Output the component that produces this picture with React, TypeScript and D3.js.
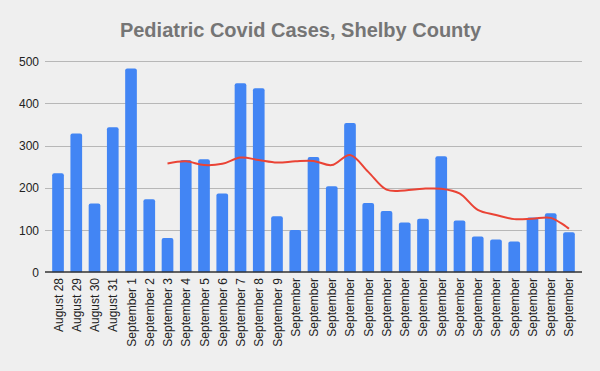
import React, { useEffect, useRef } from "react";
import * as d3 from "d3";

const categories: string[] = [
  "August 28", "August 29", "August 30", "August 31",
  "September 1", "September 2", "September 3", "September 4", "September 5",
  "September 6", "September 7", "September 8", "September 9",
  "September", "September", "September", "September", "September", "September",
  "September", "September", "September", "September", "September", "September",
  "September", "September", "September", "September",
];

const cases: number[] = [
  235, 329, 163, 344, 483, 173, 81, 266, 268, 187, 448, 436, 133, 100, 273,
  204, 354, 164, 145, 118, 127, 275, 123, 85, 78, 73, 130, 140, 95,
];

// trend line values (null where no line is drawn)
const trend: (number | null)[] = [
  null, null, null, null, null, null, 258, 263, 254, 257, 272, 266, 260, 263,
  264, 254, 278, 238, 196, 194, 198, 198, 187, 148, 136, 126, 127, 129, 103,
];

const yTicks: number[] = [0, 100, 200, 300, 400, 500];

const W = 600;
const H = 371;

export default function App() {
  const ref = useRef<SVGSVGElement>(null);

  useEffect(() => {
    const svg = d3.select(ref.current);
    svg.selectAll("*").remove();

    const gridLeft = 45;
    const gridRight = 582;
    const x = d3
      .scaleBand<number>()
      .domain(d3.range(categories.length))
      .range([48.9, 578.1])
      .paddingInner(0.36)
      .paddingOuter(0.18);
    const y = d3.scaleLinear().domain([0, 500]).range([272.3, 61.3]);

    svg.append("rect").attr("width", W).attr("height", H).attr("fill", "#efefef");

    svg
      .append("text")
      .attr("x", 300.5)
      .attr("y", 37)
      .attr("text-anchor", "middle")
      .attr("font-family", "Arial, 'Liberation Sans', sans-serif")
      .attr("font-size", 20)
      .attr("font-weight", "bold")
      .attr("fill", "#757575")
      .text("Pediatric Covid Cases, Shelby County");

    // gridlines
    svg
      .append("g")
      .selectAll("line")
      .data(yTicks.filter((t) => t !== 0))
      .join("line")
      .attr("x1", gridLeft)
      .attr("x2", gridRight)
      .attr("y1", (d) => Math.round(y(d)) + 0.5)
      .attr("y2", (d) => Math.round(y(d)) + 0.5)
      .attr("stroke", "#b7b7b7")
      .attr("stroke-width", 1);

    // y labels
    svg
      .append("g")
      .selectAll("text")
      .data(yTicks)
      .join("text")
      .attr("x", 39)
      .attr("y", (d) => y(d) + 4.5)
      .attr("text-anchor", "end")
      .attr("font-family", "Arial, 'Liberation Sans', sans-serif")
      .attr("font-size", 12)
      .attr("fill", "#222222")
      .text((d) => String(d));

    // bars
    const r = 2;
    svg
      .append("g")
      .selectAll("path")
      .data(cases)
      .join("path")
      .attr("fill", "#4285f4")
      .attr("d", (d, i) => {
        const x0 = x(i)!;
        const w = x.bandwidth();
        const y0 = y(d);
        const yb = y(0);
        return `M${x0},${yb}V${y0 + r}Q${x0},${y0} ${x0 + r},${y0}H${x0 + w - r}Q${x0 + w},${y0} ${x0 + w},${y0 + r}V${yb}Z`;
      });

    // baseline
    svg
      .append("line")
      .attr("x1", gridLeft)
      .attr("x2", gridRight)
      .attr("y1", 272)
      .attr("y2", 272)
      .attr("stroke", "#333333")
      .attr("stroke-width", 1.5);

    // trend line
    const line = d3
      .line<number | null>()
      .defined((d) => d !== null)
      .x((_, i) => x(i)! + x.bandwidth() / 2)
      .y((d) => y(d as number))
      .curve(d3.curveCatmullRom.alpha(0.5));
    svg
      .append("path")
      .datum(trend)
      .attr("d", line)
      .attr("fill", "none")
      .attr("stroke", "#ea4335")
      .attr("stroke-width", 2);

    // x labels
    svg
      .append("g")
      .selectAll("text")
      .data(categories)
      .join("text")
      .attr(
        "transform",
        (_, i) => `translate(${x(i)! + x.bandwidth() / 2 + 4.5},278) rotate(-90)`
      )
      .attr("text-anchor", "end")
      .attr("font-family", "Arial, 'Liberation Sans', sans-serif")
      .attr("font-size", 12)
      .attr("fill", "#222222")
      .text((d) => d);
  }, []);

  return (
    <div style={{ position: "fixed", left: 0, top: 0, width: W, height: H }}>
      <svg ref={ref} width={W} height={H} style={{ display: "block" }} />
    </div>
  );
}
